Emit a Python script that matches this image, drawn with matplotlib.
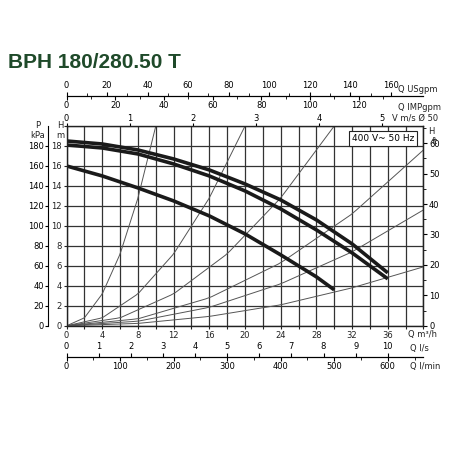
import matplotlib
matplotlib.use("Agg")
import matplotlib.pyplot as plt
import numpy as np

# Pump curves (Q m3/h, H m)
q_top = [0, 4, 8, 12, 16, 20, 24, 28, 32, 36]
h_top = [18.5, 18.2, 17.6, 16.7, 15.6, 14.2, 12.6, 10.6, 8.2, 5.3]
q_mid = [0, 4, 8, 12, 16, 20, 24, 28, 32, 36]
h_mid = [18.1, 17.8, 17.2, 16.2, 15.0, 13.5, 11.7, 9.6, 7.3, 4.7]
q_low = [0, 4, 8, 12, 16, 20, 24, 28, 30]
h_low = [16.0, 15.0, 13.8, 12.5, 11.0, 9.2, 7.1, 4.9, 3.6]
# System curves (Q, H)
sys_q = [[0, 2, 4, 6, 8, 10],
         [0, 4, 8, 12, 16, 20],
         [0, 6, 12, 18, 24, 30],
         [0, 8, 16, 24, 32, 40],
         [0, 8, 16, 24, 32, 40],
         [0, 8, 16, 24, 32, 40]]
sys_h = [[0, 0.8, 3.2, 7.2, 12.8, 20],
         [0, 0.8, 3.2, 7.2, 12.8, 20],
         [0, 0.8, 3.2, 7.2, 12.8, 20],
         [0, 0.7, 2.8, 6.3, 11.2, 17.6],
         [0, 0.46, 1.85, 4.2, 7.4, 11.6],
         [0, 0.24, 0.94, 2.1, 3.8, 5.9]]

dark = "#222222"
fig = plt.figure(figsize=(4.5, 4.5), dpi=100)
ax = fig.add_axes([0.148, 0.276, 0.793, 0.444])
ax.set_xlim(0, 40)
ax.set_ylim(0, 20)
ax.set_xticks(np.arange(0, 41, 2))
ax.set_yticks(np.arange(0, 21, 2))
ax.grid(True, color="#333333", lw=0.9)
ax.set_xticklabels([str(v) if v % 4 == 0 and v < 40 else "" for v in range(0, 41, 2)], fontsize=6)
ax.set_yticklabels([str(v) if v < 20 else "" for v in range(0, 21, 2)], fontsize=6)
ax.tick_params(length=2, pad=1.5, colors=dark)
for s in ax.spines.values():
    s.set_color(dark); s.set_linewidth(1)

for xs, ys in zip(sys_q, sys_h):
    xx = np.array(xs, float); yy = np.array(ys, float)
    xf = np.linspace(0, xx[-1], 60)
    yf = np.interp(xf, xx, yy)
    ax.plot(xf, yf, color="#555555", lw=0.7)
for xs, ys in [(q_top, h_top), (q_mid, h_mid), (q_low, h_low)]:
    ax.plot(xs, ys, color="#1a1a1a", lw=2.6, solid_capstyle="butt")

ax.text(0.975, 0.96, "400 V~ 50 Hz", transform=ax.transAxes, ha="right", va="top",
        fontsize=6.5, bbox=dict(facecolor="white", edgecolor=dark, lw=0.8, pad=2))

vax = ax.secondary_xaxis('top', functions=(lambda q: q / 7.07, lambda v: v * 7.07))
vax.set_xticks(range(0, 6)); vax.tick_params(labelsize=6, length=2, pad=0.5)
vax.spines['top'].set_visible(False)

us = ax.secondary_xaxis(1.15, functions=(lambda q: q * 4.403, lambda g: g / 4.403))
us.set_xticks(range(0, 161, 20)); us.set_xticks(range(10, 161, 20), minor=True)
us.tick_params(labelsize=6, length=3, pad=1); us.tick_params(which='minor', length=2)
im = ax.secondary_xaxis(1.15, functions=(lambda q: q * 3.666, lambda g: g / 3.666))
im.xaxis.set_ticks_position('bottom'); im.xaxis.set_label_position('bottom')
im.set_xticks(range(0, 121, 20)); im.set_xticks(range(10, 131, 20), minor=True)
im.tick_params(labelsize=6, length=3, pad=0.5); im.tick_params(which='minor', length=2)

ls = ax.secondary_xaxis(-0.155, functions=(lambda q: q / 3.6, lambda l: l * 3.6))
ls.xaxis.set_ticks_position('top')
ls.set_xticks(range(0, 11)); ls.tick_params(labelsize=6, length=3, pad=1)
lm = ax.secondary_xaxis(-0.155, functions=(lambda q: q * 16.667, lambda l: l / 16.667))
lm.set_xticks(range(0, 601, 100)); lm.set_xticks(range(50, 651, 100), minor=True)
lm.tick_params(labelsize=6, length=3, pad=1); lm.tick_params(which='minor', length=2)

kpa = ax.secondary_yaxis(-0.052, functions=(lambda h: h * 10, lambda p: p / 10))
kpa.set_yticks(range(0, 181, 20)); kpa.tick_params(labelsize=6, length=2, pad=1)
ft = ax.secondary_yaxis('right', functions=(lambda h: h * 3.281, lambda f: f / 3.281))
ft.set_yticks(range(0, 61, 10)); ft.set_yticks(range(5, 66, 10), minor=True)
ft.tick_params(labelsize=6, length=3, pad=1); ft.tick_params(which='minor', length=2)

def ft_(x, y, s, **k):
    fig.text(x / 450, 1 - y / 450, s, fontsize=6, color=dark, **k)

ft_(398, 89, "Q USgpm", va="center")
ft_(398, 107, "Q IMPgpm", va="center")
ft_(392, 118, "V m/s Ø 50", va="center")
ft_(428, 131, "H", va="center")
ft_(432, 141, "ft", va="center")
ft_(408, 335, "Q m³/h", va="center")
ft_(410, 349, "Q l/s", va="center")
ft_(410, 366, "Q l/min", va="center")
ft_(38, 126, "P", va="center", ha="center")
ft_(38, 135, "kPa", va="center", ha="center")
ft_(60, 126, "H", va="center", ha="center")
ft_(60, 135, "m", va="center", ha="center")

fig.text(8 / 450, 1 - 63 / 450, "BPH 180/280.50 T", fontsize=15, fontweight="bold",
         color="#1f4a2a", family=["Liberation Sans Narrow", "Liberation Sans", "DejaVu Sans"], va="center")

fig.savefig("out.png", dpi=100, facecolor="white")
